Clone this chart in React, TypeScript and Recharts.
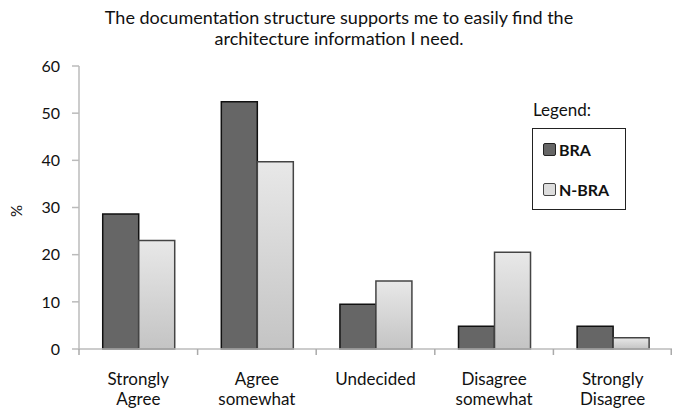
import React from "react";
import { BarChart, Bar, XAxis, YAxis } from "recharts";

const categories = ["Strongly\nAgree", "Agree\nsomewhat", "Undecided", "Disagree\nsomewhat", "Strongly\nDisagree"];
const braValues = [28.6, 52.4, 9.5, 4.8, 4.8];
const nbraValues = [23, 39.7, 14.4, 20.5, 2.4];
const yTicks = [0, 10, 20, 30, 40, 50, 60];
const xTicks = [0.5, 1.5, 2.5, 3.5, 4.5];

const data = categories.map((c, i) => ({ name: c, bra: braValues[i], nbra: nbraValues[i], pos: i + 0.5 }));

const FONT = "Lato, 'Open Sans', sans-serif";

const XTick = (props: any) => {
  const { x, y, payload, width } = props;
  const v = Number(payload.value);
  const idx = Math.floor(v);
  const half = (Number(width) || 593) / categories.length / 2;
  const lines = (categories[idx] || "").split("\n");
  return (
    <g>
      <line x1={x - half} x2={x - half} y1={y} y2={y + 6} stroke="#aaa" strokeWidth={1.5} />
      {idx === categories.length - 1 && (
        <line x1={x + half - 0.75} x2={x + half - 0.75} y1={y} y2={y + 6} stroke="#aaa" strokeWidth={1.5} />
      )}
      <text x={x} y={y} textAnchor="middle" fontFamily={FONT} fontSize={17} fill="#111">
        {lines.map((l, i) => (
          <tspan key={i} x={x} dy={i === 0 ? 36 : 20}>{l}</tspan>
        ))}
      </text>
    </g>
  );
};

const LegendBox = () => (
  <div style={{ position: "absolute", left: 532, top: 98, fontFamily: FONT, color: "#111" }}>
    <div style={{ fontSize: 17, marginLeft: 1, height: 30, lineHeight: "24px" }}>Legend:</div>
    <div style={{ border: "1.5px solid #222", width: 94, height: 82, boxSizing: "border-box", padding: "9px 0 0 10px" }}>
      <div style={{ display: "flex", alignItems: "center", fontWeight: "bold", fontSize: 16, height: 22 }}>
        <span style={{ width: 11, height: 11, background: "#666", border: "1px solid #222", borderRadius: 2, marginRight: 3 }} />
        BRA
      </div>
      <div style={{ display: "flex", alignItems: "center", fontWeight: "bold", fontSize: 16, height: 22, marginTop: 18 }}>
        <span style={{ width: 11, height: 11, background: "#ddd", border: "1px solid #444", borderRadius: 2, marginRight: 3 }} />
        N-BRA
      </div>
    </div>
  </div>
);

export default function App() {
  return (
    <div style={{ position: "absolute", left: 0, top: 0, width: 678, height: 416, background: "#fff" }}>
      <div style={{ position: "absolute", left: 0, top: 7, width: 678, textAlign: "center", fontFamily: FONT, fontSize: 18, lineHeight: "21px", color: "#111" }}>
        The documentation structure supports me to easily find the
        <br />
        architecture information I need.
      </div>
      <div style={{ position: "absolute", left: 10, top: 202, transform: "rotate(-90deg)", fontFamily: FONT, fontSize: 15, color: "#111" }}>%</div>
      <BarChart
        width={678}
        height={416}
        data={data}
        margin={{ top: 66, right: 6, bottom: 0, left: 34 }}
        barCategoryGap="20%"
        barGap={0}
      >
        <defs>
          <linearGradient id="lightGrad" x1="0" y1="0" x2="0" y2="1">
            <stop offset="0%" stopColor="#e8e8e8" />
            <stop offset="100%" stopColor="#c4c4c4" />
          </linearGradient>
        </defs>
        <XAxis dataKey="name" xAxisId="cat" hide />
        <XAxis
          xAxisId="bnd"
          dataKey="pos"
          type="number"
          domain={[0, 5]}
          allowDataOverflow
          ticks={xTicks}
          interval={0}
          axisLine={{ stroke: "#bbb", strokeWidth: 1.5 }}
          tickLine={false}
          tickSize={0}
          tickMargin={0}
          tick={<XTick />}
          height={67}
        />
        <YAxis
          domain={[0, 60]}
          ticks={yTicks}
          width={45}
          axisLine={{ stroke: "#bbb", strokeWidth: 1.5 }}
          tickLine={{ stroke: "#bbb", strokeWidth: 1.5 }}
          tickSize={7}
          tickMargin={12}
          tick={{ fontFamily: FONT, fontSize: 16, fill: "#111" }}
        />
        <Bar xAxisId="cat" dataKey="bra" name="BRA" fill="#666" stroke="#111" strokeWidth={1.5} isAnimationActive={false} />
        <Bar xAxisId="cat" dataKey="nbra" name="N-BRA" fill="url(#lightGrad)" stroke="#444" strokeWidth={1.5} isAnimationActive={false} />
      </BarChart>
      <LegendBox />
    </div>
  );
}
